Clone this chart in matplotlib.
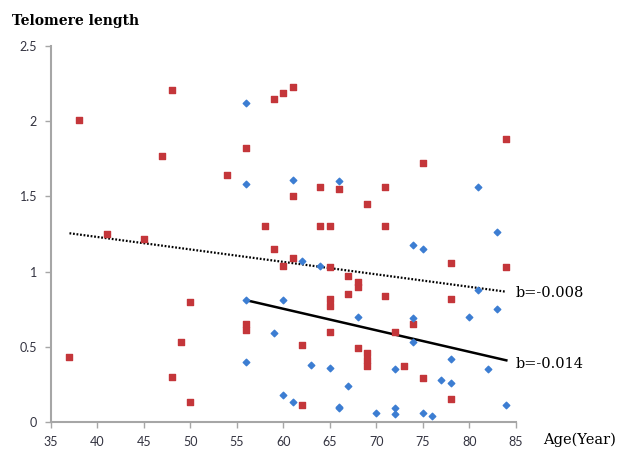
import numpy as np
import matplotlib
matplotlib.use("Agg")
import matplotlib.pyplot as plt

# red squares (age, telomere length)
red_age = [37, 38, 41, 45, 47, 48, 48, 49, 50, 50, 54, 56, 56, 56, 58, 59, 59,
           60, 60, 61, 61, 61, 62, 62, 64, 64, 65, 65, 65, 65, 65, 66, 67, 67,
           68, 68, 68, 69, 69, 69, 69, 71, 71, 71, 72, 73, 74, 75, 75, 78, 78,
           78, 84, 84]
red_len = [0.43, 2.01, 1.25, 1.22, 1.77, 2.21, 0.30, 0.53, 0.80, 0.13, 1.64,
           1.82, 0.65, 0.61, 1.30, 2.15, 1.15, 2.19, 1.04, 2.23, 1.50, 1.09,
           0.51, 0.11, 1.56, 1.30, 1.30, 1.03, 0.82, 0.77, 0.60, 1.55, 0.97,
           0.85, 0.93, 0.90, 0.49, 1.45, 0.46, 0.41, 0.37, 1.56, 1.30, 0.84,
           0.60, 0.37, 0.65, 1.72, 0.29, 1.06, 0.82, 0.15, 1.88, 1.03]

# blue diamonds
blue_age = [56, 56, 56, 56, 59, 60, 60, 61, 61, 62, 63, 64, 65, 66, 66, 66,
            67, 68, 70, 72, 72, 72, 74, 74, 74, 75, 75, 76, 77, 78, 78, 80,
            81, 81, 82, 83, 83, 84]
blue_len = [2.12, 1.58, 0.81, 0.40, 0.59, 0.81, 0.18, 1.61, 0.13, 1.07, 0.38,
            1.04, 0.36, 1.60, 0.10, 0.09, 0.24, 0.70, 0.06, 0.35, 0.09, 0.05,
            1.18, 0.69, 0.53, 1.15, 0.06, 0.04, 0.28, 0.42, 0.26, 0.70, 1.56,
            0.88, 0.35, 1.26, 0.75, 0.11]

# trend lines as drawn (end points)
red_fit_x = [37, 84]
red_fit_y = [1.255, 0.866]
blue_fit_x = [56, 84]
blue_fit_y = [0.81, 0.41]

xticks = [35, 40, 45, 50, 55, 60, 65, 70, 75, 80, 85]
yticks = [0, 0.5, 1, 1.5, 2, 2.5]
ytick_labels = ["0", "0.5", "1", "1.5", "2", "2.5"]

fig = plt.figure(figsize=(6.19, 4.49), dpi=100)
ax = fig.add_axes([0.0822, 0.0601, 0.7508, 0.8375])

ax.scatter(red_age, red_len, marker="s", s=18, color="#C4363A", zorder=3)
ax.scatter(blue_age, blue_len, marker="D", s=11, color="#3C7DD2", zorder=3)

ax.plot(red_fit_x, red_fit_y, color="black", lw=1.6, ls=(0, (0.8, 0.8)), zorder=2)
ax.plot(blue_fit_x, blue_fit_y, color="black", lw=1.8, zorder=2)

ax.set_xlim(35, 85)
ax.set_ylim(0, 2.5)
ax.set_xticks(xticks)
ax.set_yticks(yticks)
ax.set_yticklabels(ytick_labels)

for s in ["top", "right"]:
    ax.spines[s].set_visible(False)
for s in ["left", "bottom"]:
    ax.spines[s].set_color("#A6A6A6")
    ax.spines[s].set_linewidth(1.5)
ax.tick_params(direction="out", length=4, width=1, color="#A6A6A6",
               labelsize=9, labelcolor="#333340", pad=6)
for lab in ax.get_xticklabels() + ax.get_yticklabels():
    lab.set_fontfamily("Lato")

serif = "DejaVu Serif"
fig.text(12 / 619, 1 - 21 / 449, "Telomere length", fontsize=10,
         fontweight="bold", family=serif, va="center", ha="left")
fig.text(543 / 619, 1 - 440 / 449, "Age(Year)", fontsize=10.5,
         family=serif, va="center", ha="left")
ax.text(84.95, 0.86, "b=-0.008", fontsize=10.5, family=serif,
        va="center", ha="left", clip_on=False)
ax.text(84.95, 0.385, "b=-0.014", fontsize=10.5, family=serif,
        va="center", ha="left", clip_on=False)

fig.savefig("out.png", dpi=100)
